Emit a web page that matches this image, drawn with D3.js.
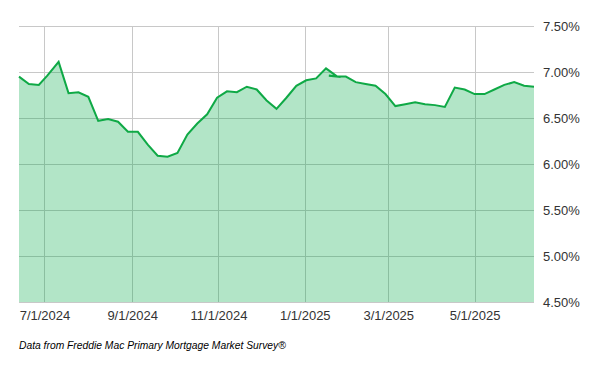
<!DOCTYPE html>
<html>
<head>
<meta charset="utf-8">
<script src="https://cdn.jsdelivr.net/npm/d3@7"></script>
<style>
  html, body { margin: 0; padding: 0; background: #fff; }
  svg { display: block; }
  text { font-family: "Liberation Sans", Arial, sans-serif; }
</style>
</head>
<body>
<svg id="chart" width="600" height="371"></svg>
<script>
// Weekly 30-year fixed mortgage rates (%)
const dates = [
  "2024-06-13","2024-06-20","2024-06-27","2024-07-03","2024-07-11","2024-07-18","2024-07-25",
  "2024-08-01","2024-08-08","2024-08-15","2024-08-22","2024-08-29","2024-09-05","2024-09-12",
  "2024-09-19","2024-09-26","2024-10-03","2024-10-10","2024-10-17","2024-10-24","2024-10-31",
  "2024-11-07","2024-11-14","2024-11-21","2024-11-28","2024-12-05","2024-12-12","2024-12-19",
  "2024-12-26","2025-01-02","2025-01-09","2025-01-16","2025-01-24","2025-01-18","2025-01-30",
  "2025-02-06","2025-02-13","2025-02-20","2025-02-27","2025-03-06","2025-03-13","2025-03-20",
  "2025-03-27","2025-04-03","2025-04-10","2025-04-17","2025-04-24","2025-05-01","2025-05-08",
  "2025-05-15","2025-05-22","2025-05-29","2025-06-05","2025-06-12"
];
const rates = [
  6.95, 6.87, 6.86, 6.96, 7.11, 6.77, 6.78,
  6.73, 6.47, 6.49, 6.46, 6.35, 6.35, 6.21,
  6.09, 6.08, 6.12, 6.32, 6.44, 6.54, 6.72,
  6.79, 6.78, 6.84, 6.81, 6.69, 6.60, 6.72,
  6.85, 6.91, 6.93, 7.04, 6.95, 6.96, 6.95,
  6.89, 6.87, 6.85, 6.76, 6.63, 6.65, 6.67,
  6.65, 6.64, 6.62, 6.83, 6.81, 6.76, 6.76,
  6.81, 6.86, 6.89, 6.85, 6.84
];
const xTickDates = ["2024-07-01","2024-09-01","2024-11-01","2025-01-01","2025-03-01","2025-05-01"];
const xTickLabels = ["7/1/2024","9/1/2024","11/1/2024","1/1/2025","3/1/2025","5/1/2025"];
const yTicks = [4.5, 5.0, 5.5, 6.0, 6.5, 7.0, 7.5];
const xDomain = ["2024-06-13", "2025-06-12"];
const yDomain = [4.5, 7.5];
const footnote = "Data from Freddie Mac Primary Mortgage Market Survey®";

(function () {
const parse = d3.utcParse("%Y-%m-%d");
const data = dates.map((d, i) => ({ date: parse(d), value: rates[i] }));

const mLeft = 19, mRight = 534, mTop = 26, mBottom = 302;
const svg = d3.select("#chart");

const x = d3.scaleUtc().domain(xDomain.map(parse)).range([mLeft, mRight]);
const y = d3.scaleLinear().domain(yDomain).range([mBottom, mTop]);

// grid lines
const grid = svg.append("g");
grid.selectAll("line.h").data(yTicks).enter().append("line")
  .attr("x1", mLeft).attr("x2", mRight)
  .attr("y1", d => Math.round(y(d)) + 0.5).attr("y2", d => Math.round(y(d)) + 0.5)
  .attr("stroke", "#c8c8c8").attr("stroke-width", 1);
grid.selectAll("line.v").data(xTickDates.map(parse)).enter().append("line")
  .attr("x1", d => Math.round(x(d)) + 0.5).attr("x2", d => Math.round(x(d)) + 0.5)
  .attr("y1", mTop).attr("y2", mBottom)
  .attr("stroke", "#c8c8c8").attr("stroke-width", 1);

// area
const area = d3.area().x(d => x(d.date)).y0(mBottom).y1(d => y(d.value));
svg.append("path").datum(data)
  .attr("d", area)
  .attr("fill", "rgb(0,170,70)").attr("fill-opacity", 0.3);

// line
const line = d3.line().x(d => x(d.date)).y(d => y(d.value));
svg.append("path").datum(data)
  .attr("d", line)
  .attr("fill", "none").attr("stroke", "#0fa946").attr("stroke-width", 2)
  .attr("stroke-linejoin", "miter");

// y axis labels (right)
const yAxis = d3.axisRight(y).tickValues(yTicks).tickSize(0).tickPadding(9)
  .tickFormat(d => d.toFixed(2) + "%");
const ya = svg.append("g").attr("transform", `translate(${mRight},0)`).call(yAxis);
ya.select(".domain").remove();
ya.selectAll("text").attr("font-size", 13).attr("fill", "#333")
  .attr("font-family", "'Liberation Sans', Arial, sans-serif");

// x axis labels
const xAxis = d3.axisBottom(x).tickValues(xTickDates.map(parse)).tickSize(0).tickPadding(9)
  .tickFormat((d, i) => xTickLabels[i]);
const xa = svg.append("g").attr("transform", `translate(0,${mBottom})`).call(xAxis);
xa.select(".domain").remove();
xa.selectAll("text").attr("font-size", 13).attr("fill", "#333")
  .attr("font-family", "'Liberation Sans', Arial, sans-serif");

// footnote
svg.append("text")
  .attr("x", 19).attr("y", 349)
  .attr("font-size", 10.3).attr("font-style", "italic").attr("fill", "#000")
  .text(footnote);
})();
</script>
</body>
</html>
